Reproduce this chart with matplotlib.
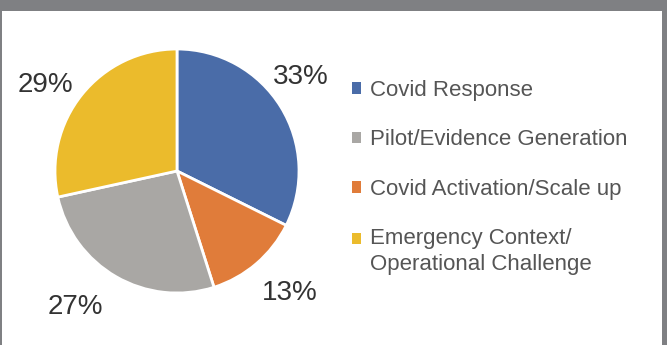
import matplotlib
matplotlib.use("Agg")
import matplotlib.pyplot as plt
from matplotlib.patches import Patch, Rectangle
from matplotlib.legend_handler import HandlerPatch

pie_labels = ["Covid Response", "Covid Activation/Scale up", "Pilot/Evidence Generation",
              "Emergency Context/\nOperational Challenge"]
pie_values = [33, 13, 27, 29]
pie_colors = ["#4a6ca8", "#e07c3a", "#a9a7a4", "#ebbb2c"]
legend_order = [0, 2, 1, 3]

# label positions in pie-radius units (layout)
label_pos = [(1.016, 0.795), (0.926, -0.975), (-0.836, -1.09), (-1.082, 0.730)]

W, H = 667, 345
plt.rcParams['font.family'] = ['Liberation Sans', 'DejaVu Sans']
fig = plt.figure(figsize=(W / 100, H / 100), dpi=100)
fig.patch.set_facecolor("white")

# frame
frame_col = "#7f8083"
fig.add_artist(Rectangle((0, 1 - 11 / H), 1, 11 / H, transform=fig.transFigure, color=frame_col, lw=0))
fig.add_artist(Rectangle((0, 0), 2 / W, 1, transform=fig.transFigure, color=frame_col, lw=0))
fig.add_artist(Rectangle((1 - 5 / W, 0), 5 / W, 1, transform=fig.transFigure, color=frame_col, lw=0))

cx, cy, r = 177, 345 - 171, 122
ax = fig.add_axes([(cx - r) / W, (cy - r) / H, 2 * r / W, 2 * r / H])
wedges, texts = ax.pie(pie_values, colors=pie_colors, startangle=90, counterclock=False,
                       labels=[f"{v}%" for v in pie_values], labeldistance=1.3,
                       wedgeprops=dict(edgecolor="white", linewidth=2),
                       textprops=dict(fontsize=20, color="#333333"))
for t, p in zip(texts, label_pos):
    t.set_position(p)
    t.set_ha("center")
    t.set_va("center_baseline")
ax.set_xlim(-1, 1)
ax.set_ylim(-1, 1)
ax.set_aspect("equal")
ax.axis("off")


def top_aligned(legend, orig_handle, xdescent, ydescent, width, height, fontsize):
    return Rectangle((-xdescent, -ydescent + 0.6 * fontsize), width, height)


handles = [Patch(facecolor=pie_colors[i], edgecolor="none") for i in legend_order]
labs = [pie_labels[i] for i in legend_order]
leg = fig.legend(handles, labs, loc="upper left", bbox_to_anchor=(352 / W, 1 - 80 / H),
                 frameon=False, fontsize=16, labelcolor="#555555",
                 handlelength=0.4, handleheight=0.4, handletextpad=0.42, labelspacing=1.28,
                 borderpad=0, borderaxespad=0,
                 handler_map={handles[3]: HandlerPatch(patch_func=top_aligned)})
for t in leg.get_texts():
    t.set_linespacing(1.3)

fig.savefig("out.png", dpi=100, facecolor="white")
